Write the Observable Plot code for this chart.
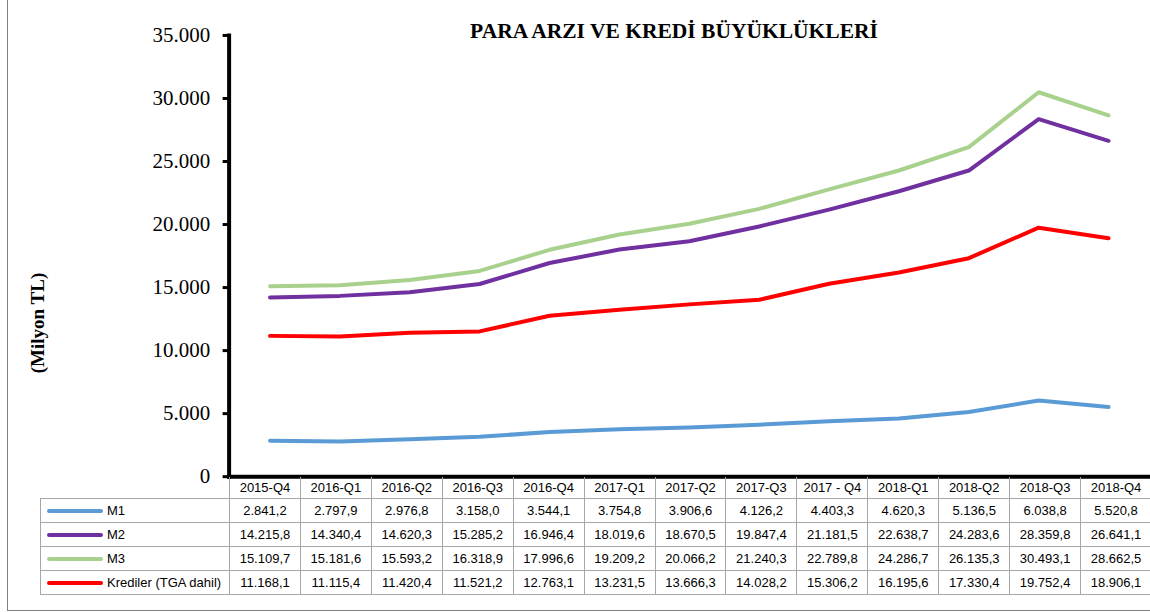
<!DOCTYPE html>
<html>
<head>
<meta charset="utf-8">
<script src="https://cdn.jsdelivr.net/npm/d3@7"></script>
<script src="https://cdn.jsdelivr.net/npm/@observablehq/plot@0.6"></script>
<style>
  html, body { margin: 0; padding: 0; background: #fff; overflow: hidden; }
  #wrap { position: relative; width: 1150px; height: 612px; overflow: hidden; }
  #chart { position: absolute; left: 0; top: 0; }
  #title { position: absolute; left: 674px; top: 21px; transform: translateX(-50%); white-space: nowrap;
           font-family: "Liberation Serif", serif; font-weight: bold; font-size: 21.5px; line-height: 21.5px; color: #000; }
  #ylabel { position: absolute; left: 38px; top: 323px; transform: translate(-50%, -50%) rotate(-90deg); white-space: nowrap;
            font-family: "Liberation Serif", serif; font-weight: bold; font-size: 19px; color: #000; }
  #border { position: absolute; left: 7px; top: 0; width: 1150px; height: 611px; border-left: 1px solid #808080; border-bottom: 1px solid #808080; box-sizing: border-box; }
  #tbl { position: absolute; left: 40px; top: 477px; border-collapse: collapse; table-layout: fixed;
         font-family: "Liberation Sans", Arial, sans-serif; font-size: 13px; color: #000; }
  #tbl td { border: 1px solid #a6a6a6; text-align: center; padding: 0; height: 23px; white-space: nowrap; overflow: hidden; }
  #tbl tr.head td { height: 21px; border-top: none; }
  #tbl tr.head td.blank { border: none; }
  #tbl td.key { text-align: left; }
  #tbl td.key svg { vertical-align: middle; margin-left: 6px; margin-right: 4px; }
  #tbl td.key span { vertical-align: middle; }
</style>
</head>
<body>
<div id="wrap">
  <div id="border"></div>
  <div id="chart"></div>
  <div id="title"></div>
  <div id="ylabel"></div>
  <table id="tbl"></table>
</div>
<script>
const titleText = "PARA ARZI VE KREDİ BÜYÜKLÜKLERİ";
const yLabelText = "(Milyon TL)";
const quarters = ["2015-Q4","2016-Q1","2016-Q2","2016-Q3","2016-Q4","2017-Q1","2017-Q2","2017-Q3","2017 - Q4","2018-Q1","2018-Q2","2018-Q3","2018-Q4"];
const seriesNames = ["M1","M2","M3","Krediler (TGA dahil)"];
const seriesColors = ["#5B9BD5","#7030A0","#A9D18E","#FF0000"];
const m1 = [2841.2,2797.9,2976.8,3158.0,3544.1,3754.8,3906.6,4126.2,4403.3,4620.3,5136.5,6038.8,5520.8];
const m2 = [14215.8,14340.4,14620.3,15285.2,16946.4,18019.6,18670.5,19847.4,21181.5,22638.7,24283.6,28359.8,26641.1];
const m3 = [15109.7,15181.6,15593.2,16318.9,17996.6,19209.2,20066.2,21240.3,22789.8,24286.7,26135.3,30493.1,28662.5];
const krediler = [11168.1,11115.4,11420.4,11521.2,12763.1,13231.5,13666.3,14028.2,15306.2,16195.6,17330.4,19752.4,18906.1];
const yTicks = [0,5000,10000,15000,20000,25000,30000,35000];

const seriesValues = [m1, m2, m3, krediler];
const trLocale = d3.formatLocale({decimal: ",", thousands: ".", grouping: [3], currency: ["", ""]});
const fmtTick = trLocale.format(",.0f");
const fmtVal = trLocale.format(",.1f");

const rows = [];
seriesNames.forEach((s, si) => quarters.forEach((q, qi) => rows.push({s, q, v: seriesValues[si][qi]})));

const chart = Plot.plot({
  width: 1152,
  height: 480,
  marginLeft: 229,
  marginRight: 1,
  marginTop: 35,
  marginBottom: 3,
  style: {background: "transparent", fontFamily: "Liberation Serif", overflow: "visible"},
  x: {type: "point", domain: quarters, padding: 0.5, axis: null},
  y: {domain: [0, 35000], axis: null},
  color: {domain: seriesNames, range: seriesColors},
  marks: [
    Plot.axisY({ticks: yTicks, tickFormat: fmtTick, tickSize: 6, tickPadding: 13, fontSize: 21, label: null,
                fontFamily: "Liberation Serif", strokeWidth: 3, stroke: "#000", fill: "#000"}),
    Plot.line(rows, {x: "q", y: "v", z: "s", stroke: "s", strokeWidth: 4, strokeLinejoin: "round", strokeLinecap: "round"}),
    Plot.frame({anchor: "left", stroke: "#000", strokeWidth: 4}),
    Plot.frame({anchor: "bottom", stroke: "#000", strokeWidth: 4})
  ]
});
document.getElementById("chart").appendChild(chart);
document.getElementById("title").textContent = titleText;
document.getElementById("ylabel").textContent = yLabelText;

// data table
const tbl = d3.select("#tbl");
const colW = 922 / quarters.length;
const cg = tbl.append("colgroup");
cg.append("col").style("width", "189px");
quarters.forEach(() => cg.append("col").style("width", colW + "px"));
tbl.style("width", (189 + 922) + "px");
const head = tbl.append("tr").attr("class", "head");
head.append("td").attr("class", "blank");
quarters.forEach(q => head.append("td").text(q));
seriesNames.forEach((s, si) => {
  const tr = tbl.append("tr");
  const key = tr.append("td").attr("class", "key");
  const sv = key.append("svg").attr("width", 56).attr("height", 8);
  sv.append("line").attr("x1", 2).attr("x2", 54).attr("y1", 4).attr("y2", 4)
    .attr("stroke", seriesColors[si]).attr("stroke-width", 4).attr("stroke-linecap", "round");
  key.append("span").text(s);
  seriesValues[si].forEach(v => tr.append("td").text(fmtVal(v)));
});
</script>
</body>
</html>
